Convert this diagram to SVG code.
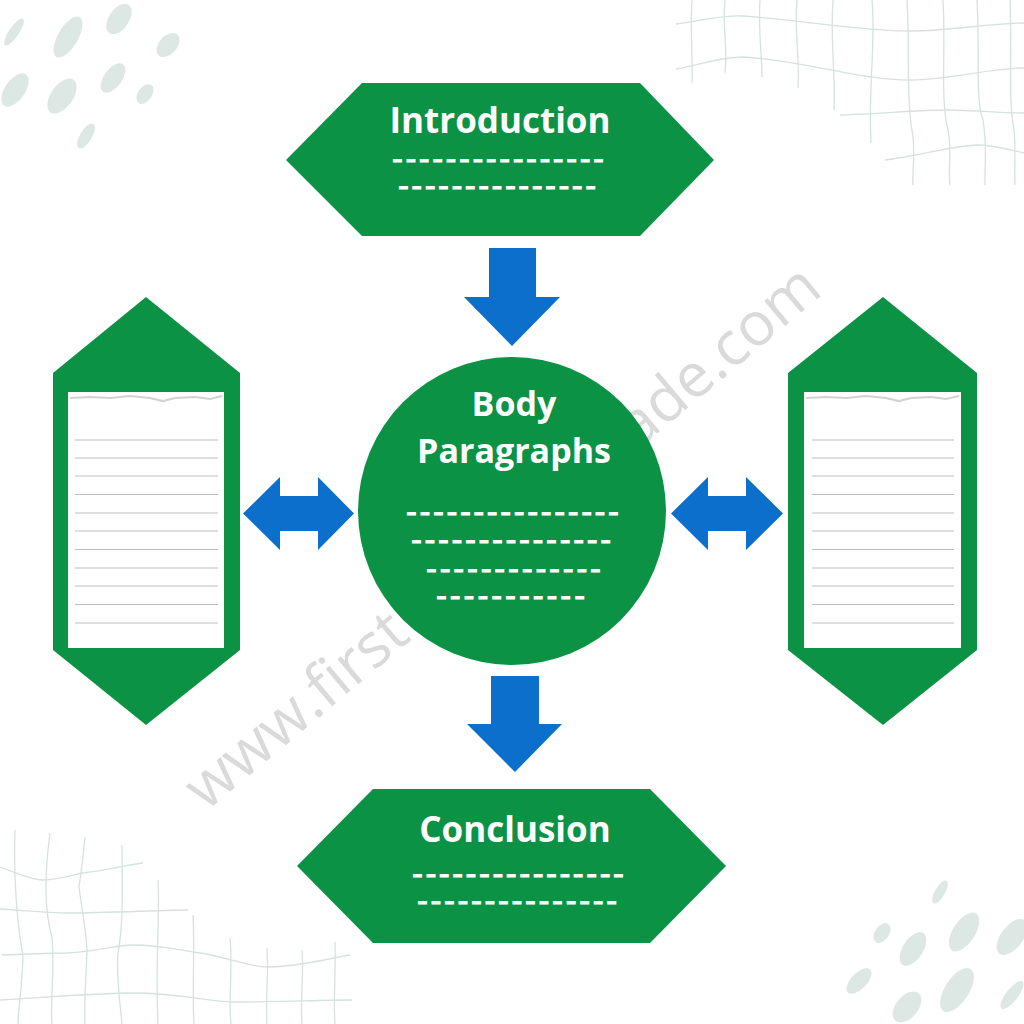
<svg xmlns="http://www.w3.org/2000/svg" width="1024" height="1024" viewBox="0 0 1024 1024">
<defs>
<style>
.bg{fill:#ffffff}
.green{fill:#0b9245}
.blue{fill:#0c6fcb}
.paper{fill:#ffffff}
.rule{stroke:#bdbdbd;stroke-width:1.2;fill:none}
.torn{stroke:#d2d2d2;stroke-width:2.2;fill:none}
.dot{fill:#dde7e3}
.grid{stroke:#d6e2de;stroke-width:1.3;fill:none}
.title{font-family:"Open Sans","Liberation Sans",sans-serif;font-weight:700;fill:#ffffff;text-anchor:middle}
.dash{font-family:"Open Sans","Liberation Sans",sans-serif;font-weight:700;fill:#ffffff;stroke:#ffffff;stroke-width:1.2;font-size:19px}
.wm{font-family:"Open Sans","Liberation Sans",sans-serif;font-size:61px;fill:#dadada}
</style>
</defs>
<rect class="bg" x="0" y="0" width="1024" height="1024"/>

<g id="decor-dots-tl">
<ellipse class="dot" cx="14" cy="32" rx="5" ry="16" transform="rotate(34 14 32)"/>
<ellipse class="dot" cx="68" cy="37" rx="10" ry="23" transform="rotate(30 68 37)"/>
<ellipse class="dot" cx="119" cy="19" rx="10" ry="17" transform="rotate(35 119 19)"/>
<ellipse class="dot" cx="168" cy="45" rx="9" ry="14" transform="rotate(42 168 45)"/>
<ellipse class="dot" cx="15" cy="90" rx="10" ry="19" transform="rotate(35 15 90)"/>
<ellipse class="dot" cx="62" cy="96" rx="11" ry="20" transform="rotate(35 62 96)"/>
<ellipse class="dot" cx="113" cy="78" rx="9" ry="17" transform="rotate(36 113 78)"/>
<ellipse class="dot" cx="145" cy="94" rx="7" ry="11" transform="rotate(36 145 94)"/>
<ellipse class="dot" cx="86" cy="136" rx="6" ry="14" transform="rotate(31 86 136)"/>
</g>
<g id="decor-dots-br">
<ellipse class="dot" cx="940" cy="892" rx="5" ry="13" transform="rotate(30 940 892)"/>
<ellipse class="dot" cx="882" cy="933" rx="7" ry="11" transform="rotate(35 882 933)"/>
<ellipse class="dot" cx="964" cy="932" rx="11" ry="22" transform="rotate(33 964 932)"/>
<ellipse class="dot" cx="1012" cy="937" rx="11" ry="21" transform="rotate(37 1012 937)"/>
<ellipse class="dot" cx="913" cy="949" rx="10" ry="19" transform="rotate(33 913 949)"/>
<ellipse class="dot" cx="859" cy="981" rx="8" ry="16" transform="rotate(44 859 981)"/>
<ellipse class="dot" cx="957" cy="990" rx="12" ry="25" transform="rotate(33 957 990)"/>
<ellipse class="dot" cx="907" cy="1007" rx="11" ry="18" transform="rotate(40 907 1007)"/>
<ellipse class="dot" cx="1012" cy="995" rx="6" ry="17" transform="rotate(38 1012 995)"/>
</g>
<g id="decor-grid-tr">
<path class="grid" d="M676,24 C700,21 720,15 743,16 C800,20 860,31 910,31 C950,31 990,23 1024,23"/>
<path class="grid" d="M676,69 C700,65 720,57 743,57 C800,60 860,80 910,80 C950,80 990,68 1024,68"/>
<path class="grid" d="M840,115 C880,114 915,110 947,110 C975,110 1000,113 1024,113"/>
<path class="grid" d="M885,160 C920,156 950,146 977,145 C995,145 1010,150 1024,153"/>
<path class="grid" d="M692,0 C690,30 693,60 692,83"/>
<path class="grid" d="M725,0 C722,25 728,50 725,73"/>
<path class="grid" d="M760,0 C758,30 762,55 762,77"/>
<path class="grid" d="M797,0 C794,30 800,60 798,88"/>
<path class="grid" d="M833,0 C830,40 836,80 834,110"/>
<path class="grid" d="M872,0 C876,40 868,90 871,143"/>
<path class="grid" d="M907,0 C910,50 906,100 912,130 C916,150 912,170 913,185"/>
<path class="grid" d="M943,0 C946,50 940,100 948,130 C952,150 948,170 950,185"/>
<path class="grid" d="M977,0 C980,50 975,100 983,120 C988,150 984,170 985,185"/>
<path class="grid" d="M1010,0 C1012,50 1008,100 1014,130 C1016,150 1014,170 1015,185"/>
</g>
<g id="decor-grid-bl">
<path class="grid" d="M0,867 C15,872 30,880 43,880 C60,880 75,874 83,873 C110,870 130,864 143,863"/>
<path class="grid" d="M0,909 C30,911 50,913 67,913 C110,913 160,910 188,910"/>
<path class="grid" d="M2,955 C30,954 50,953 67,953 C100,951 115,945 133,945 C160,945 180,950 200,953 C230,958 250,967 267,967 C300,967 330,958 350,955"/>
<path class="grid" d="M0,1000 C50,997 100,993 133,993 C180,993 210,1002 233,1002 C280,1002 320,1000 352,1000"/>
<path class="grid" d="M15,830 C13,880 18,930 23,955 C22,990 18,1010 18,1024"/>
<path class="grid" d="M50,833 C45,870 44,910 52,937 C55,970 50,1000 52,1024"/>
<path class="grid" d="M85,837 C83,860 80,880 79,887 C82,910 86,930 87,950 C86,980 84,1000 85,1024"/>
<path class="grid" d="M122,845 C122,880 124,920 118,953 C116,980 120,1000 122,1024"/>
<path class="grid" d="M158,880 C160,920 155,960 158,1024"/>
<path class="grid" d="M193,915 C195,950 192,990 194,1024"/>
<path class="grid" d="M230,938 C233,970 228,1000 231,1024"/>
<path class="grid" d="M267,948 C269,980 265,1000 267,1024"/>
<path class="grid" d="M302,950 C304,980 300,1000 302,1024"/>
<path class="grid" d="M335,942 C336,975 333,1000 335,1024"/>
</g>

<g id="watermark">
<text class="wm" transform="translate(206 812) rotate(-40)"><tspan>www.first</tspan><tspan dx="236">grade.com</tspan></text>
</g>

<g id="connectors">
<polygon id="arrow-intro-body" class="blue" points="489,248 536,248 536,297 560,297 512,346 464,297 489,297"/>
<polygon id="arrow-body-conclusion" class="blue" points="491,676 539,676 539,724 562,724 515,772 467,724 491,724"/>
<polygon id="arrow-left-body" class="blue" points="243,513.5 280,477 280,496 318,496 318,477 354,513.5 318,550 318,531 280,531 280,550"/>
<polygon id="arrow-body-right" class="blue" points="671,513.5 708,477 708,496 746,496 746,477 783,513.5 746,550 746,531 708,531 708,550"/>
</g>

<g id="introduction">
<polygon class="green" points="286,160 362,83 640,83 714,160 640,236 362,236"/>
<text class="title" x="500" y="133" font-size="35">Introduction</text>
<text class="dash" transform="translate(393 166) scale(1.45 1)" textLength="144.8" lengthAdjust="spacing">----------------</text>
<text class="dash" transform="translate(399 193) scale(1.45 1)" textLength="135.2" lengthAdjust="spacing">---------------</text>
</g>

<g id="body-paragraphs">
<circle class="green" cx="512" cy="511" r="154"/>
<text class="title" x="514" y="416" font-size="34">Body</text>
<text class="title" x="514" y="463" font-size="34">Paragraphs</text>
<text class="dash" transform="translate(407 519) scale(1.45 1)" textLength="145.5" lengthAdjust="spacing">----------------</text>
<text class="dash" transform="translate(412 547) scale(1.45 1)" textLength="136.6" lengthAdjust="spacing">---------------</text>
<text class="dash" transform="translate(427 576) scale(1.45 1)" textLength="119.3" lengthAdjust="spacing">-------------</text>
<text class="dash" transform="translate(437 603) scale(1.45 1)" textLength="101.4" lengthAdjust="spacing">-----------</text>
</g>

<g id="conclusion">
<polygon class="green" points="297,866 373,789 650,789 726,866 650,943 373,943"/>
<text class="title" x="515" y="842" font-size="35">Conclusion</text>
<text class="dash" transform="translate(413 881) scale(1.45 1)" textLength="144.8" lengthAdjust="spacing">----------------</text>
<text class="dash" transform="translate(418 908) scale(1.45 1)" textLength="136.6" lengthAdjust="spacing">---------------</text>
</g>

<g id="left-panel">
<polygon class="green" points="146,297 240,373 240,650 146,725 53,650 53,373"/>
<rect class="paper" x="68" y="392" width="156" height="256"/>
<path class="torn" d="M70,398 L90,397 L110,398 L130,396 L150,398 L163,401 L175,398 L195,397 L210,399 L222,396"/>
<g class="rule">
<line x1="75" y1="440" x2="218" y2="440"/>
<line x1="75" y1="458" x2="218" y2="458"/>
<line x1="75" y1="476" x2="218" y2="476"/>
<line x1="75" y1="494.5" x2="218" y2="494.5"/>
<line x1="75" y1="513" x2="218" y2="513"/>
<line x1="75" y1="531" x2="218" y2="531"/>
<line x1="75" y1="549.5" x2="218" y2="549.5"/>
<line x1="75" y1="568" x2="218" y2="568"/>
<line x1="75" y1="586" x2="218" y2="586"/>
<line x1="75" y1="604.5" x2="218" y2="604.5"/>
<line x1="75" y1="623" x2="218" y2="623"/>
</g>
</g>

<g id="right-panel">
<polygon class="green" points="883,297 977,373 977,650 883,725 788,650 788,373"/>
<rect class="paper" x="804" y="392" width="157" height="256"/>
<path class="torn" d="M806,398 L826,397 L846,398 L866,396 L886,398 L899,401 L911,398 L931,397 L946,399 L959,396"/>
<g class="rule">
<line x1="812" y1="440" x2="954" y2="440"/>
<line x1="812" y1="458" x2="954" y2="458"/>
<line x1="812" y1="476" x2="954" y2="476"/>
<line x1="812" y1="494.5" x2="954" y2="494.5"/>
<line x1="812" y1="513" x2="954" y2="513"/>
<line x1="812" y1="531" x2="954" y2="531"/>
<line x1="812" y1="549.5" x2="954" y2="549.5"/>
<line x1="812" y1="568" x2="954" y2="568"/>
<line x1="812" y1="586" x2="954" y2="586"/>
<line x1="812" y1="604.5" x2="954" y2="604.5"/>
<line x1="812" y1="623" x2="954" y2="623"/>
</g>
</g>
</svg>
